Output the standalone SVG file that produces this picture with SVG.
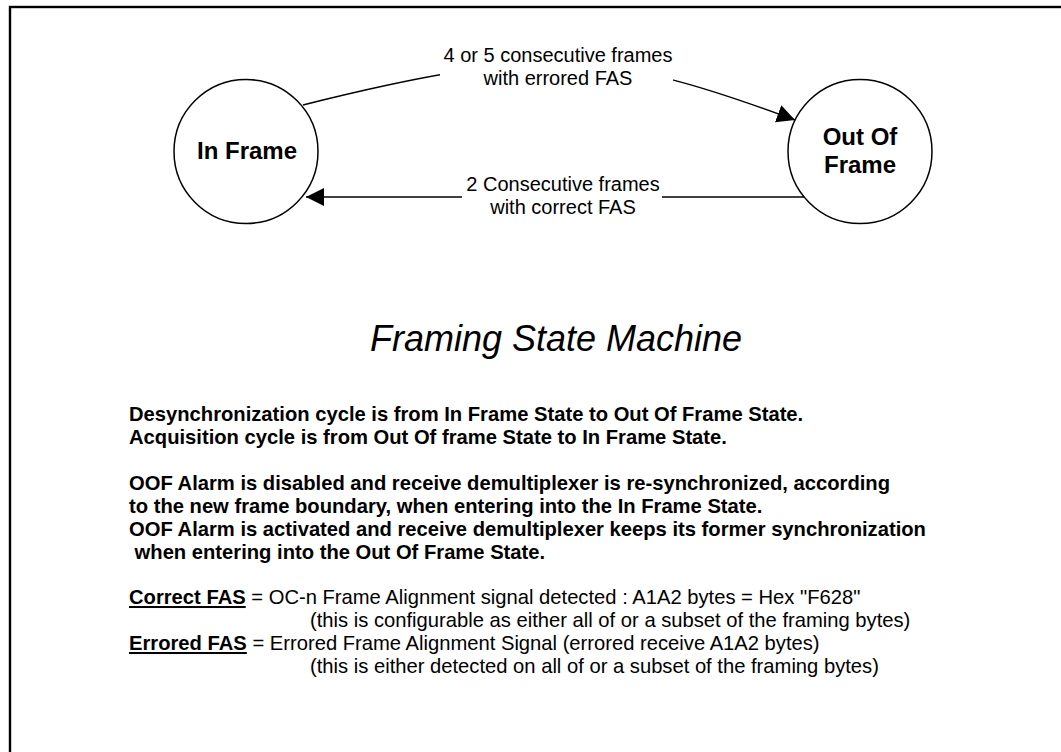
<svg xmlns="http://www.w3.org/2000/svg" width="1061" height="752" viewBox="0 0 1061 752">
<style>
.bg{fill:#fff}
.frame{fill:none;stroke:#000;stroke-width:2.4}
.state{fill:#fff;stroke:#000;stroke-width:1.5}
.sname{font-family:"Liberation Sans",Arial,sans-serif;font-weight:bold;font-size:24px;fill:#000;text-anchor:middle}
.edge{fill:none;stroke:#000;stroke-width:1.5}
.lbl{font-family:"Liberation Sans",Arial,sans-serif;font-size:20px;fill:#000;text-anchor:middle}
.lblbg{fill:#fff;stroke:none}
.title{font-family:"Liberation Sans",Arial,sans-serif;font-style:italic;font-size:36px;fill:#000;text-anchor:middle}
.body{font-family:"Liberation Sans",Arial,sans-serif;font-size:20.2px;fill:#000}
.b{font-weight:bold}
.u{font-weight:bold;text-decoration:underline}
</style>
<defs>
<marker id="arrow" markerUnits="userSpaceOnUse" markerWidth="20" markerHeight="20" refX="18" refY="9" orient="auto">
<path d="M0,0 L18,9 L0,18 z" fill="#000"/>
</marker>
</defs>
<rect class="bg" x="0" y="0" width="1061" height="752"/>
<rect class="frame" x="10" y="7" width="1100" height="800"/>

<g id="connectors">
<path id="edge-in-to-oof" class="edge" d="M303,105 C543,45 609,51 795,120" marker-end="url(#arrow)"/>
<path id="edge-oof-to-in" class="edge" d="M805,197 L306,197" marker-end="url(#arrow)"/>
<g id="label-in-to-oof">
<rect class="lblbg" x="440" y="44" width="233" height="48"/>
<text class="lbl" x="558" y="62">4 or 5 consecutive frames</text>
<text class="lbl" x="558" y="85">with errored FAS</text>
</g>
<g id="label-oof-to-in">
<rect class="lblbg" x="462" y="174" width="200" height="46"/>
<text class="lbl" x="563" y="191">2 Consecutive frames</text>
<text class="lbl" x="563" y="214">with correct FAS</text>
</g>
</g>

<g id="node-in-frame">
<circle class="state" cx="246" cy="151.5" r="72"/>
<text class="sname" x="247" y="159">In Frame</text>
</g>
<g id="node-out-of-frame">
<circle class="state" cx="860" cy="151.5" r="72"/>
<text class="sname" x="860" y="145">Out Of</text>
<text class="sname" x="860" y="173">Frame</text>
</g>

<text class="title" x="556" y="351">Framing State Machine</text>

<g id="notes">
<text class="body b" x="129" y="421">Desynchronization cycle is from In Frame State to Out Of Frame State.</text>
<text class="body b" x="129" y="444">Acquisition cycle is from Out Of frame State to In Frame State.</text>
<text class="body b" x="129" y="490">OOF Alarm is disabled and receive demultiplexer is re-synchronized, according</text>
<text class="body b" x="129" y="513">to the new frame boundary, when entering into the In Frame State.</text>
<text class="body b" x="129" y="536">OOF Alarm is activated and receive demultiplexer keeps its former synchronization</text>
<text class="body b" x="129" y="559" xml:space="preserve"> when entering into the Out Of Frame State.</text>
<text class="body" x="129" y="604"><tspan class="u">Correct FAS</tspan> = OC-n Frame Alignment signal detected : A1A2 bytes = Hex "F628"</text>
<text class="body" x="310" y="627">(this is configurable as either all of or a subset of the framing bytes)</text>
<text class="body" x="129" y="650"><tspan class="u">Errored FAS</tspan> = Errored Frame Alignment Signal (errored receive A1A2 bytes)</text>
<text class="body" x="310" y="673">(this is either detected on all of or a subset of the framing bytes)</text>
</g>
</svg>
